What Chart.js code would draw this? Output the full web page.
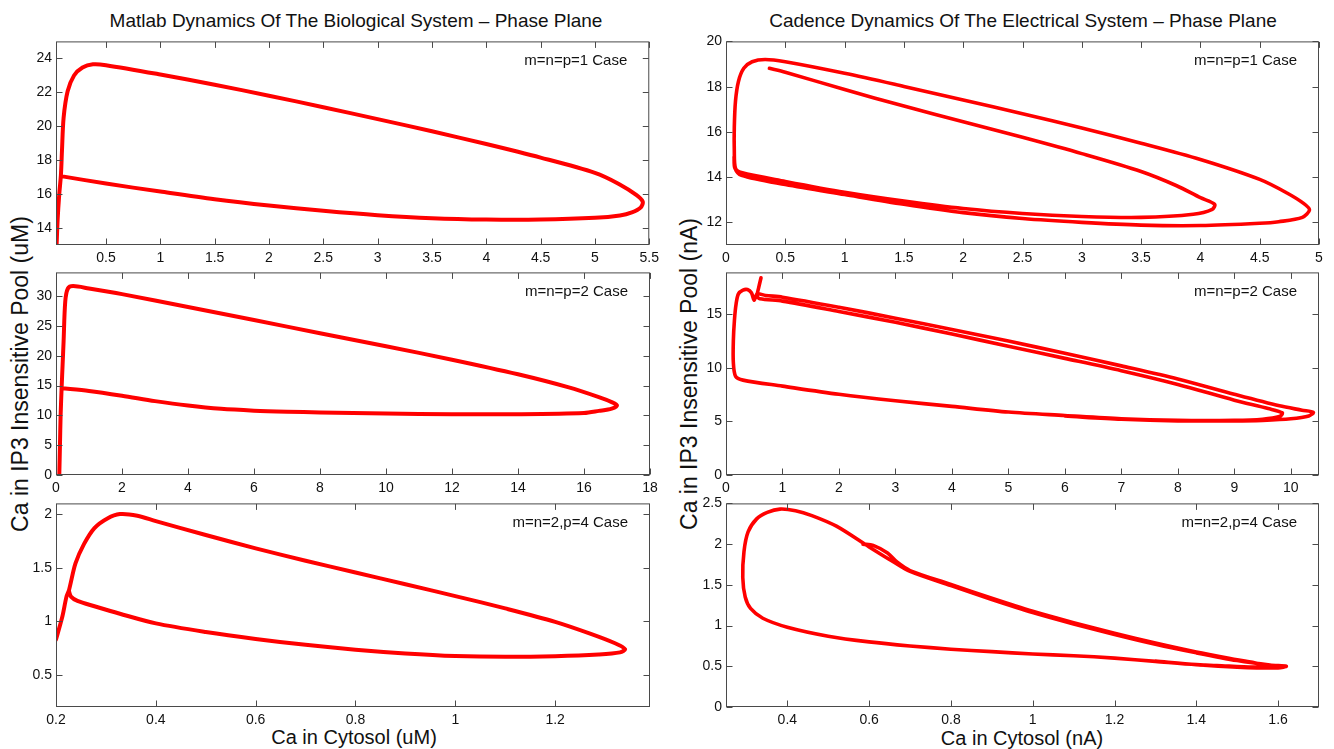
<!DOCTYPE html>
<html><head><meta charset="utf-8">
<script src="https://cdn.jsdelivr.net/npm/chart.js@4.4.1/dist/chart.umd.min.js"></script>
<style>
html,body{margin:0;padding:0;background:#fff;}
#wrap{position:relative;width:1334px;height:749px;overflow:hidden;background:#fff;font-family:"Liberation Sans",Arial,sans-serif;color:#111;}
#wrap canvas{position:absolute;}
.t{position:absolute;white-space:nowrap;transform:translate(-50%,-50%);line-height:1;}
.yl{transform:translate(-50%,-50%) rotate(-90deg);}
</style></head><body>
<div id="wrap">
  <div class="t" style="left:356px;top:20px;font-size:19px;">Matlab Dynamics Of The Biological System – Phase Plane</div>
  <div class="t" style="left:1023px;top:20px;font-size:19px;">Cadence Dynamics Of The Electrical System – Phase Plane</div>
  <div class="t yl" style="left:20px;top:374px;font-size:23px;">Ca in IP3 Insensitive Pool (uM)</div>
  <div class="t yl" style="left:689px;top:374px;font-size:23px;">Ca in IP3 Insensitive Pool (nA)</div>
  <div class="t" style="left:354px;top:737px;font-size:20px;">Ca in Cytosol (uM)</div>
  <div class="t" style="left:1022px;top:738px;font-size:20px;">Ca in Cytosol (nA)</div>
</div>
<script>
// ---------- data ----------
const caseLabels = ['m=n=p=1 Case','m=n=p=2 Case','m=n=2,p=4 Case'];

// Matlab, m=n=p=1
const tlX = [0.045,0.055,0.07,0.085,0.095,0.11,0.147,0.206,0.284,0.38,0.5,1.0,1.5,2.0,2.5,3.0,3.5,4.0,4.5,5.0,5.22,5.38,5.44,5.42,5.34,5.23,5.0,4.5,4.0,3.5,3.0,2.5,2.0,1.5,1.0,0.5,0.085];
const tlY = [12.9,14.5,16.0,17.1,18.57,20.5,22.06,22.99,23.46,23.65,23.6,23.05,22.45,21.8,21.12,20.42,19.7,18.95,18.15,17.25,16.6,15.95,15.55,15.2,14.92,14.74,14.6,14.5,14.5,14.58,14.76,15.02,15.33,15.7,16.15,16.62,17.06];
const tlXRange = [0.04,5.5], tlYRange = [13,25];
const tlXTicks = [0.5,1,1.5,2,2.5,3,3.5,4,4.5,5,5.5];
const tlYTicks = [14,16,18,20,22,24];

// Matlab, m=n=p=2
const mlX = [0.1,0.12,0.14,0.17,0.2,0.23,0.28,0.36,0.52,1.0,2,4,6,8,10,12,14,15.54,16.45,16.84,17.0,16.84,16.45,16,14,12,10,8,7,6,5,4,3,2,1,0.17];
const mlY = [0,5,10,14.56,18.5,22.4,29.1,31.3,31.7,31.3,30.35,28.2,26.0,23.8,21.6,19.35,16.9,14.7,13.07,12.24,11.7,11.14,10.76,10.4,10.2,10.2,10.3,10.5,10.62,10.8,11.1,11.65,12.4,13.3,14.1,14.56];
const mlXRange = [0,18], mlYRange = [0,34];
const mlXTicks = [0,2,4,6,8,10,12,14,16,18];
const mlYTicks = [0,5,10,15,20,25,30];

// Matlab, m=n=2,p=4
const blX = [0.2,0.213,0.221,0.226,0.239,0.256,0.277,0.303,0.328,0.363,0.4,0.5,0.6,0.7,0.8,0.9,1.0,1.1,1.2,1.27,1.32,1.34,1.33,1.287,1.2,1.1,1.0,0.9,0.8,0.7,0.6,0.5,0.4,0.328,0.277,0.243,0.23,0.226];
const blY = [0.83,1.05,1.23,1.29,1.54,1.72,1.87,1.96,2.0,1.985,1.935,1.805,1.68,1.565,1.455,1.345,1.235,1.12,0.995,0.885,0.795,0.74,0.71,0.69,0.674,0.668,0.676,0.70,0.735,0.78,0.835,0.90,0.98,1.07,1.14,1.19,1.23,1.28];
const blXRange = [0.2,1.39], blYRange = [0.2,2.1];
const blXTicks = [0.2,0.4,0.6,0.8,1,1.2];
const blYTicks = [0.5,1,1.5,2];

// Cadence, m=n=p=1
const trX = [0.366,0.5,1.0,1.5,2.0,2.5,3.0,3.5,3.8,4.0,4.12,4.1,3.94,3.5,3.0,2.5,2.0,1.5,1.0,0.5,0.13,0.08,0.07,0.07,0.08,0.105,0.15,0.22,0.33,0.5,1.0,1.5,2.0,2.5,3.0,3.5,4.0,4.5,4.73,4.87,4.92,4.86,4.66,4.5,4.0,3.5,3.0,2.5,2.0,1.5,1.0,0.5,0.13,0.075,0.068];
const trY = [18.81,18.64,17.87,17.14,16.45,15.76,15.04,14.25,13.62,13.09,12.8,12.58,12.36,12.22,12.26,12.39,12.61,12.94,13.33,13.81,14.2,14.39,15.19,16.2,17.36,18.23,18.81,19.1,19.2,19.1,18.59,18.01,17.41,16.8,16.17,15.5,14.78,13.9,13.3,12.84,12.55,12.22,12.03,11.96,11.86,11.88,12.0,12.17,12.43,12.8,13.23,13.67,14.08,14.4,14.9];
const trXRange = [0,5], trYRange = [11,20];
const trXTicks = [0,0.5,1,1.5,2,2.5,3,3.5,4,4.5,5];
const trYTicks = [12,14,16,18,20];

// Cadence, m=n=p=2
const mrX = [0.62,0.58,0.55,0.6,1.0,2.0,3.0,4.0,5.0,6.0,7.0,8.0,9.0,9.6,9.85,9.8,9.5,9.0,8.0,7.0,6.0,5.0,4.0,3.0,2.0,1.0,0.3,0.17,0.13,0.13,0.15,0.18,0.22,0.3,0.38,0.45,0.5,0.55,0.7,1.0,2.0,3.0,4.0,5.0,6.0,7.0,8.0,9.0,9.8,10.2,10.4,10.32,10.0,9.5,9.0,8.0,7.0,6.0];
const mrY = [18.4,17.5,16.7,16.45,16.22,15.25,14.24,13.15,12.01,10.88,9.73,8.45,6.98,6.2,5.8,5.45,5.2,5.1,5.1,5.25,5.55,5.87,6.4,6.92,7.53,8.29,8.85,9.2,10.5,12.5,14.5,16.0,16.9,17.25,17.3,17.0,16.3,16.9,16.75,16.59,15.65,14.63,13.58,12.5,11.35,10.18,8.96,7.53,6.45,6.05,5.85,5.5,5.24,5.1,5.05,5.05,5.2,5.5];
const mrXRange = [0,10.5], mrYRange = [0,18.9];
const mrXTicks = [0,1,2,3,4,5,6,7,8,9,10];
const mrYTicks = [0,5,10,15];

// Cadence, m=n=2,p=4
const brX = [0.585,0.61,0.645,0.668,0.7,0.8,0.9,1.0,1.1,1.2,1.3,1.4,1.5,1.55,1.57,1.54,1.45,1.4,1.3,1.2,1.1,1.0,0.9,0.8,0.7,0.6,0.5,0.4,0.34,0.31,0.297,0.291,0.294,0.304,0.325,0.351,0.382,0.42,0.46,0.52,0.6,0.66,0.7,0.8,0.9,1.0,1.1,1.2,1.3,1.4,1.5,1.58,1.62,1.6,1.5,1.4,1.3];
const brY = [2.0,1.985,1.89,1.78,1.675,1.505,1.335,1.175,1.035,0.905,0.785,0.675,0.58,0.535,0.505,0.49,0.51,0.52,0.56,0.6,0.63,0.65,0.68,0.71,0.75,0.8,0.87,0.98,1.09,1.21,1.35,1.59,1.91,2.15,2.31,2.39,2.43,2.41,2.35,2.22,1.965,1.78,1.665,1.49,1.32,1.16,1.02,0.89,0.77,0.665,0.57,0.515,0.5,0.48,0.49,0.52,0.565];
const brXRange = [0.25,1.7], brYRange = [0,2.5];
const brXTicks = [0.4,0.6,0.8,1,1.2,1.4,1.6];
const brYTicks = [0,0.5,1,1.5,2,2.5];

// ---------- layout ----------
const colL = [56,650], colR = [726,1319];
const rows = [[39,245],[270,475],[501,707]];

const panels = [
  {col:colL,row:rows[0],xs:tlX,ys:tlY,xr:tlXRange,yr:tlYRange,xt:tlXTicks,yt:tlYTicks,label:caseLabels[0],lw:4},
  {col:colL,row:rows[1],xs:mlX,ys:mlY,xr:mlXRange,yr:mlYRange,xt:mlXTicks,yt:mlYTicks,label:caseLabels[1],lw:4},
  {col:colL,row:rows[2],xs:blX,ys:blY,xr:blXRange,yr:blYRange,xt:blXTicks,yt:blYTicks,label:caseLabels[2],lw:4},
  {col:colR,row:rows[0],xs:trX,ys:trY,xr:trXRange,yr:trYRange,xt:trXTicks,yt:trYTicks,label:caseLabels[0],lw:3.6},
  {col:colR,row:rows[1],xs:mrX,ys:mrY,xr:mrXRange,yr:mrYRange,xt:mrXTicks,yt:mrYTicks,label:caseLabels[1],lw:3.6},
  {col:colR,row:rows[2],xs:brX,ys:brY,xr:brXRange,yr:brYRange,xt:brXTicks,yt:brYTicks,label:caseLabels[2],lw:3.6}
];

function boxPlugin(label){
  return {
    id:'boxTicks',
    afterDatasetsDraw(chart){
      const ctx = chart.ctx, a = chart.chartArea, xs = chart.scales.x, ys = chart.scales.y;
      ctx.save();
      ctx.strokeStyle = '#4a4a4a';
      ctx.lineWidth = 1;
      const L = a.left+0.5, R = a.right-0.5, T = a.top+0.5, B = a.bottom-0.5;
      ctx.strokeRect(L, T, R-L, B-T);
      ctx.beginPath();
      xs.ticks.forEach(t=>{
        const px = Math.round(xs.getPixelForValue(t.value))+0.5;
        ctx.moveTo(px,B); ctx.lineTo(px,B-6);
        ctx.moveTo(px,T); ctx.lineTo(px,T+6);
      });
      ys.ticks.forEach(t=>{
        const py = Math.round(ys.getPixelForValue(t.value))+0.5;
        ctx.moveTo(L,py); ctx.lineTo(L+6,py);
        ctx.moveTo(R,py); ctx.lineTo(R-6,py);
      });
      ctx.stroke();
      ctx.fillStyle = '#111';
      ctx.font = '15px "Liberation Sans"';
      ctx.textAlign = 'right';
      ctx.textBaseline = 'middle';
      ctx.fillText(label, a.right-22, a.top+19);
      ctx.restore();
    }
  };
}

const wrap = document.getElementById('wrap');
const padT = 10, padR = 14, yW = 50, xH = 24;
const tickFont = {family:'Liberation Sans', size:14};

panels.forEach(p=>{
  const cv = document.createElement('canvas');
  const W = (p.col[1]-p.col[0]) + yW + padR;
  const H = (p.row[1]-p.row[0]) + padT + xH;
  cv.width = W; cv.height = H;
  cv.style.left = (p.col[0]-yW)+'px';
  cv.style.top = (p.row[0]-padT)+'px';
  cv.style.width = W+'px'; cv.style.height = H+'px';
  wrap.appendChild(cv);
  const pts = p.xs.map((x,i)=>({x:x, y:p.ys[i]}));
  new Chart(cv, {
    type:'scatter',
    data:{datasets:[{data:pts, showLine:true, borderColor:'#ff0000', backgroundColor:'#ff0000',
      borderWidth:p.lw, pointRadius:0, tension:0.3, borderJoinStyle:'round', borderCapStyle:'round', fill:false}]},
    options:{
      responsive:false, animation:false, devicePixelRatio:1,
      layout:{padding:{top:padT,right:padR,bottom:0,left:0}},
      plugins:{legend:{display:false}, tooltip:{enabled:false}, title:{display:false}},
      events:[],
      scales:{
        x:{type:'linear', min:p.xr[0], max:p.xr[1],
          grid:{display:false, drawTicks:false}, border:{display:false},
          afterBuildTicks:s=>{ s.ticks = p.xt.map(v=>({value:v})); },
          afterFit:s=>{ s.height = xH; },
          ticks:{autoSkip:false, maxRotation:0, minRotation:0, padding:5, color:'#111', font:tickFont, callback:v=>String(v)}},
        y:{type:'linear', min:p.yr[0], max:p.yr[1],
          grid:{display:false, drawTicks:false}, border:{display:false},
          afterBuildTicks:s=>{ s.ticks = p.yt.map(v=>({value:v})); },
          afterFit:s=>{ s.width = yW; },
          ticks:{autoSkip:false, padding:4, color:'#111', font:tickFont, callback:v=>String(v)}}
      }
    },
    plugins:[boxPlugin(p.label)]
  });
});
</script>
</body></html>
